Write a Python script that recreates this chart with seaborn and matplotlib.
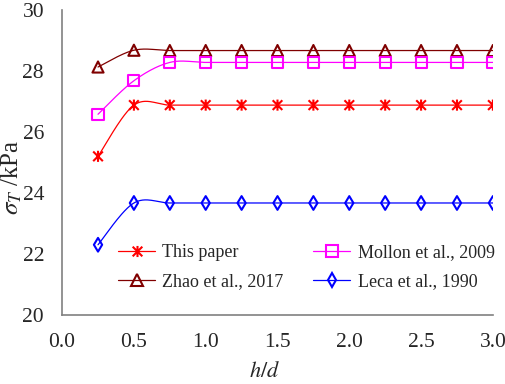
import numpy as np
import pandas as pd
import matplotlib
matplotlib.use("Agg")
import matplotlib.pyplot as plt
from matplotlib.lines import Line2D
from matplotlib.path import Path
import seaborn as sns

# data
h_d = [0.25, 0.5, 0.75, 1.0, 1.25, 1.5, 1.75, 2.0, 2.25, 2.5, 2.75, 3.0]
this_paper = [25.2, 26.88, 26.88, 26.88, 26.88, 26.88, 26.88, 26.88, 26.88, 26.88, 26.88, 26.88]
mollon_2009 = [26.58, 27.68, 28.28, 28.28, 28.28, 28.28, 28.28, 28.28, 28.28, 28.28, 28.28, 28.28]
zhao_2017 = [28.13, 28.68, 28.67, 28.67, 28.67, 28.67, 28.67, 28.67, 28.67, 28.67, 28.67, 28.67]
leca_1990 = [22.3, 23.67, 23.67, 23.67, 23.67, 23.67, 23.67, 23.67, 23.67, 23.67, 23.67, 23.67]

# asterisk: X plus a vertical bar
star = Path([(-1, -1), (1, 1), (-1, 1), (1, -1), (0, -1.15), (0, 1.15)],
            [Path.MOVETO, Path.LINETO, Path.MOVETO, Path.LINETO, Path.MOVETO, Path.LINETO])

# name: (values, colour, marker, size)
series = {
    "This paper": (this_paper, "#FF0000", star, 8),
    "Zhao et al., 2017": (zhao_2017, "#800000", "^", 8),
    "Mollon et al., 2009": (mollon_2009, "#FF00FF", "s", 8),
    "Leca et al., 1990": (leca_1990, "#0000FF", "d", 7),
}


def smooth(x, y, n=30):
    # Excel-style smoothed line (Catmull-Rom Bezier segments)
    P = np.column_stack([np.asarray(x, float), np.asarray(y, float)])
    Pe = np.vstack([P[0], P, P[-1]])
    t = np.linspace(0, 1, n)[:, None]
    out = []
    for i in range(len(P) - 1):
        p0, p1, p2, p3 = Pe[i], Pe[i + 1], Pe[i + 2], Pe[i + 3]
        c1 = p1 + (p2 - p0) / 6
        c2 = p2 - (p3 - p1) / 6
        seg = (1 - t) ** 3 * p1 + 3 * (1 - t) ** 2 * t * c1 + 3 * (1 - t) * t ** 2 * c2 + t ** 3 * p2
        out.append(seg if i == 0 else seg[1:])
    out = np.vstack(out)
    return out[:, 0], out[:, 1]


sns.set_style("white")
plt.rcParams["font.family"] = ["Liberation Serif", "DejaVu Serif"]
plt.rcParams["mathtext.fontset"] = "stix"

fig = plt.figure(figsize=(5.05, 3.84), dpi=100)
ax = fig.add_axes([0.123, 0.18, 0.853, 0.794])

handles = []
for name, (vals, color, mk, ms) in series.items():
    sx, sy = smooth(h_d, vals)
    sns.lineplot(x=sx, y=sy, ax=ax, color=color, lw=0.9, sort=False, estimator=None)
    sns.scatterplot(x=h_d, y=vals, ax=ax, marker=mk, s=ms ** 2, facecolor="none",
                    edgecolor=color, linewidth=1.5, zorder=3)
    handles.append(Line2D([], [], color=color, lw=0.9, marker=mk, markersize=ms,
                          markerfacecolor="none", markeredgecolor=color, markeredgewidth=1.5,
                          label=name))

ax.set_xlim(0, 3.0)
ax.set_ylim(20, 30)
xt = np.arange(0, 3.01, 0.5)
ax.set_xticks(xt)
ax.set_xticklabels([f"{v:.1f}" for v in xt])
ax.set_yticks(range(20, 31, 2))
ax.set_yticklabels([str(v) for v in range(20, 31, 2)])
ax.tick_params(axis="both", direction="in", length=4, width=1, color="#808080",
               labelsize=15.5)
ax.tick_params(axis="x", pad=13)
ax.tick_params(axis="y", pad=13)
for s in ["top", "right"]:
    ax.spines[s].set_visible(False)
for s in ["left", "bottom"]:
    ax.spines[s].set_color("#808080")
    ax.spines[s].set_linewidth(1.2)

ax.set_xlabel(r"$h/d$", fontsize=16)
ax.xaxis.set_label_coords(0.47, -0.155)
ax.set_ylabel(r"$\sigma_{T}$ /kPa", fontsize=18)
ax.yaxis.set_label_coords(-0.088, 0.45)

ax.legend(handles=handles, ncol=2, loc="center left", bbox_to_anchor=(0.13, 0.157),
          frameon=False, fontsize=13, handlelength=2.05, handletextpad=0.4,
          columnspacing=1.65, labelspacing=0.65, borderpad=0, borderaxespad=0)

fig.savefig("out.png", dpi=100)
